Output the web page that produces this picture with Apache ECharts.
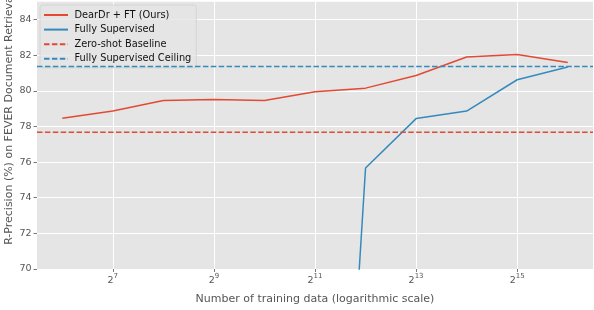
<!DOCTYPE html>
<html>
<head>
<meta charset="utf-8">
<script src="https://cdn.jsdelivr.net/npm/echarts@6/dist/echarts.min.js"></script>
<style>
html,body{margin:0;padding:0;background:#fff;}
#chart{width:594px;height:310px;}
</style>
</head>
<body>
<div id="chart"></div>
<script>
// x positions: training data size as power of two (2^k)
const trainExp = [6, 7, 8, 9, 10, 11, 12, 13, 14, 15, 16];
const dearDrFT = [78.46, 78.87, 79.46, 79.51, 79.46, 79.95, 80.15, 80.86, 81.90, 82.04, 81.59];
const fullySupExp = [11, 12, 13, 14, 15, 16];
const fullySup = [30.1, 75.67, 78.44, 78.86, 80.62, 81.33];
const zeroShotBaseline = 77.67;
const fullySupCeiling = 81.37;
const xTickExp = [7, 9, 11, 13, 15];
const yTicks = [70, 72, 74, 76, 78, 80, 82, 84];
const xRange = [5.5, 16.5];
const yRange = [70, 85];

const RED = '#E24A33', BLUE = '#348ABD';
const FONT = 'DejaVu Sans';

const chart = echarts.init(document.getElementById('chart'), null, {renderer: 'canvas'});
const pairs = (xs, ys) => xs.map((x, i) => [x, ys[i]]);

chart.setOption({
  animation: false,
  backgroundColor: '#ffffff',
  textStyle: {fontFamily: FONT},
  grid: {left: 37, right: 1, top: 1.7, bottom: 33.3, show: true, backgroundColor: '#E5E5E5', borderWidth: 0},
  legend: {
    orient: 'vertical', left: 40, top: 5,
    padding: [5, 5, 4, 3],
    itemWidth: 24, itemHeight: 10, itemGap: 4.6,
    backgroundColor: 'rgba(229,229,229,0.8)', borderColor: '#d0d0d0', borderWidth: 0.8, borderRadius: 3,
    itemStyle: {opacity: 0},
    textStyle: {fontFamily: FONT, fontSize: 9.8, color: '#111', padding: [0, 0, 0, 1.5]},
    data: ['DearDr + FT (Ours)', 'Fully Supervised', 'Zero-shot Baseline', 'Fully Supervised Ceiling']
  },
  xAxis: {
    type: 'value', min: xRange[0], max: xRange[1],
    name: 'Number of training data (logarithmic scale)',
    nameLocation: 'middle', nameGap: 25,
    nameTextStyle: {fontFamily: FONT, fontSize: 11, color: '#555'},
    axisLine: {show: false},
    axisTick: {show: true, length: 3, customValues: xTickExp, lineStyle: {color: '#555', width: 0.8}},
    axisLabel: {
      customValues: xTickExp, margin: 4, color: '#555',
      formatter: v => '{b|2}{s|' + v + '}',
      rich: {
        b: {fontFamily: FONT, fontSize: 9.5, color: '#555', verticalAlign: 'bottom', lineHeight: 13},
        s: {fontFamily: FONT, fontSize: 7, color: '#555', verticalAlign: 'top', lineHeight: 13}
      }
    },
    splitLine: {show: true, lineStyle: {color: '#ffffff', width: 1}}
  },
  yAxis: {
    type: 'value', min: yRange[0], max: yRange[1], interval: 2,
    axisLine: {show: false},
    axisTick: {show: true, length: 3.5, customValues: yTicks, lineStyle: {color: '#555', width: 0.8}},
    axisLabel: {customValues: yTicks, margin: 5.5, color: '#555', fontFamily: FONT, fontSize: 9.5},
    splitLine: {show: true, lineStyle: {color: '#ffffff', width: 1}}
  },
  graphic: [{
    type: 'text', x: 9, y: 119, rotation: Math.PI / 2,
    style: {text: 'R-Precision (%) on FEVER Document Retrieval', fontFamily: FONT, fontSize: 11, fill: '#555',
            align: 'center', verticalAlign: 'middle'}
  }],
  series: [
    {name: 'DearDr + FT (Ours)', type: 'line', data: pairs(trainExp, dearDrFT), symbol: 'none', clip: true,
     lineStyle: {color: RED, width: 1.5}, itemStyle: {color: RED}, z: 5},
    {name: 'Fully Supervised', type: 'line', data: pairs(fullySupExp, fullySup), symbol: 'none', clip: true,
     lineStyle: {color: BLUE, width: 1.5}, itemStyle: {color: BLUE}, z: 5},
    {name: 'Zero-shot Baseline', type: 'line', data: [[xRange[0], zeroShotBaseline], [xRange[1], zeroShotBaseline]],
     symbol: 'none', lineStyle: {color: RED, width: 1.5, type: [5.5, 2.4]}, itemStyle: {color: RED}, z: 5},
    {name: 'Fully Supervised Ceiling', type: 'line', data: [[xRange[0], fullySupCeiling], [xRange[1], fullySupCeiling]],
     symbol: 'none', lineStyle: {color: BLUE, width: 1.5, type: [5.5, 2.4]}, itemStyle: {color: BLUE}, z: 5}
  ]
});
</script>
</body>
</html>
